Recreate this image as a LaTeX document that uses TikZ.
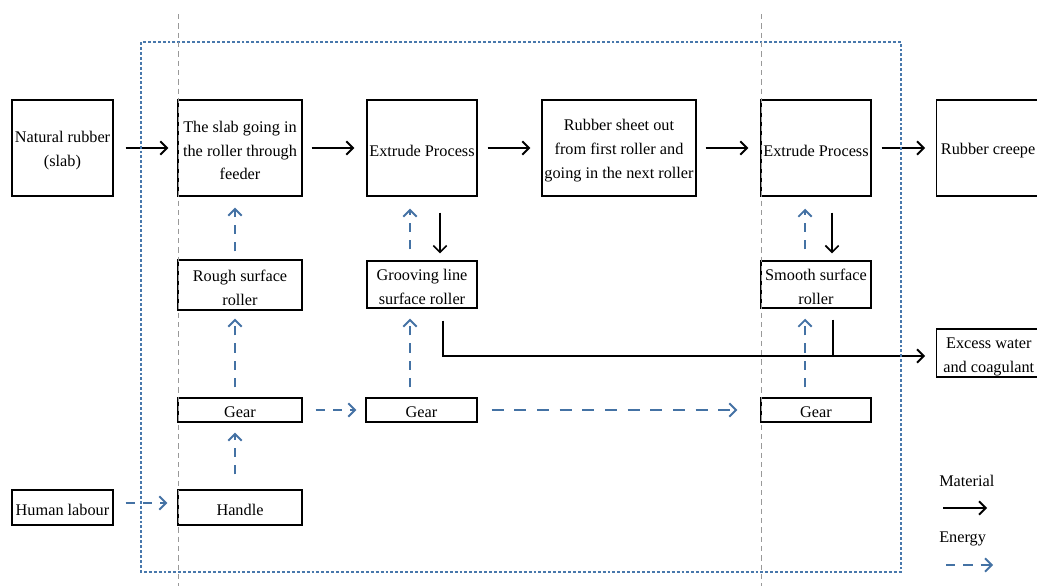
\documentclass[tikz,border=0pt]{standalone}
\usepackage{fontspec}
\setmainfont{Liberation Serif}
\usetikzlibrary{arrows.meta,calc}
\definecolor{enblue}{RGB}{68,114,164}
\definecolor{frblue}{RGB}{72,120,172}
\tikzset{
  lbl/.style={inner sep=0pt,font=\fontsize{12.2pt}{17.8pt}\selectfont},
  box/.style={draw=black,line width=1.1pt,fill=white,inner sep=0pt},
  tx/.style={label={[lbl,align=center,yshift=-1.9pt]center:{#1}}},
  mat/.style={draw=black,line width=1.5pt,-{Straight Barb[length=5pt,width=10pt,line width=1.4pt]}},
  matthin/.style={draw=black,line width=1.1pt,-{Straight Barb[length=5pt,width=10pt,line width=1.2pt]}},
  en/.style={draw=enblue,line width=1.5pt,dash pattern=on 7pt off 6pt,-{Straight Barb[length=5pt,width=10pt,line width=1.4pt]}},
  frame/.style={draw=frblue,line width=1.1pt,dash pattern=on 2.2pt off 1.5pt},
  guide/.style={draw=black!40,line width=0.6pt,dash pattern=on 4pt off 3pt}
}
\begin{document}
\begin{tikzpicture}[x=0.75pt,y=-0.75pt]
\useasboundingbox (0,0) rectangle (1037,586);
\clip (0,0) rectangle (1037,586);
% top row
\node[box,minimum width=101*0.75pt,minimum height=96*0.75pt,tx={Natural rubber\\(slab)}] (nat) at (62.5,148) {};
\node[box,minimum width=124*0.75pt,minimum height=96*0.75pt,tx={The slab going in\\the roller through\\feeder}] (slab) at (240,148) {};
\node[box,minimum width=110*0.75pt,minimum height=96*0.75pt,tx={Extrude Process}] (ext1) at (422,148) {};
\node[box,minimum width=154*0.75pt,minimum height=96*0.75pt,tx={Rubber sheet out\\from first roller and\\going in the next roller}] (sheet) at (619,148) {};
\node[box,minimum width=110*0.75pt,minimum height=96*0.75pt,tx={Extrude Process}] (ext2) at (816,148) {};
\node[box,anchor=west,minimum width=140*0.75pt,minimum height=96*0.75pt,
  label={[lbl,anchor=west,yshift=-1.9pt,xshift=3.5pt]west:{Rubber creepe}}] (creepe) at (936,148) {};
% rollers
\node[box,minimum width=124*0.75pt,minimum height=50*0.75pt,tx={Rough surface\\roller}] (rough) at (240,285) {};
\node[box,minimum width=110*0.75pt,minimum height=47*0.75pt,tx={Grooving line\\surface roller}] (groove) at (422,284.5) {};
\node[box,minimum width=110*0.75pt,minimum height=47*0.75pt,tx={Smooth surface\\roller}] (smooth) at (816,284.5) {};
\node[box,anchor=west,minimum width=104*0.75pt,minimum height=48*0.75pt,
  label={[lbl,align=center,yshift=-3pt]center:{Excess water\\and coagulant}}] (excess) at (936,353) {};
% gears
\node[box,minimum width=124*0.75pt,minimum height=24*0.75pt,tx={Gear}] (gear1) at (240,410) {};
\node[box,minimum width=111*0.75pt,minimum height=24*0.75pt,tx={Gear}] (gear2) at (421.5,410) {};
\node[box,minimum width=110*0.75pt,minimum height=24*0.75pt,tx={Gear}] (gear3) at (816,410) {};
% bottom
\node[box,minimum width=124*0.75pt,minimum height=35*0.75pt,tx={Handle}] (handle) at (240,507.5) {};
\node[box,minimum width=101*0.75pt,minimum height=35*0.75pt,tx={Human labour}] (human) at (62.5,507.5) {};
% material arrows top row
\draw[mat] ($(nat.east)+(12,0)$) -- ($(slab.west)+(-9,0)$);
\draw[mat] ($(slab.east)+(9,0)$) -- ($(ext1.west)+(-12,0)$);
\draw[mat] ($(ext1.east)+(10,0)$) -- ($(sheet.west)+(-11,0)$);
\draw[mat] ($(sheet.east)+(9,0)$) -- ($(ext2.west)+(-12,0)$);
\draw[mat] ($(ext2.east)+(10,0)$) -- ($(creepe.west)+(-11,0)$);
% material down arrows to rollers
\draw[matthin] ($(ext1.south)+(18,16)$) -- ($(groove.north)+(18,-7)$);
\draw[matthin] ($(ext2.south)+(16,16)$) -- ($(smooth.north)+(16,-7)$);
% excess water line
\coordinate (j) at ($(excess.west)+(-11,3)$);
\coordinate (g1) at ($(groove.south)+(21,12)$);
\coordinate (s1) at ($(smooth.south)+(17,11)$);
\draw[mat] (g1) |- (j);
\draw[draw=black,line width=1.1pt] (s1) -- (s1 |- j);
% energy arrows
\draw[en] ($(rough.north)+(-5,-8)$) -- ($(slab.south)+(-5,11)$);
\draw[en] ($(gear1.north)+(-5,-10)$) -- ($(rough.south)+(-5,8)$);
\draw[en] ($(handle.north)+(-5,-15)$) -- ($(gear1.south)+(-5,10)$);
\draw[en] ($(groove.north)+(-12,-11)$) -- ($(ext1.south)+(-12,12)$);
\draw[en] ($(gear2.north)+(-11.5,-10)$) -- ($(groove.south)+(-12,10)$);
\draw[en] ($(smooth.north)+(-11,-11)$) -- ($(ext2.south)+(-11,12)$);
\draw[en] ($(gear3.north)+(-11,-10)$) -- ($(smooth.south)+(-11,10)$);
\draw[en] ($(human.east)+(12,-4.5)$) -- ($(handle.west)+(-10,-4.5)$);
\draw[en] ($(gear1.east)+(13,0)$) -- ($(gear2.west)+(-9,0)$);
\draw[en,dash pattern=on 9pt off 8pt] ($(gear2.east)+(14,0)$) -- ($(gear3.west)+(-23,0)$);
% legend
\node[lbl,anchor=west] (lmat) at (939,481) {Material};
\coordinate (lm1) at (943,508);
\coordinate (lm2) at (987,508);
\draw[mat] (lm1) -- (lm2);
\node[lbl,anchor=west] (len) at (939,539) {Energy};
\coordinate (le1) at (946,565);
\coordinate (le2) at (993,565);
\draw[en] (le1) -- (le2);
% frame and guides
\draw[frame] (141,42) rectangle (901,572);
\draw[guide] (178,14) -- (178,586);
\draw[guide] (761,14) -- (761,586);
\end{tikzpicture}
\end{document}
